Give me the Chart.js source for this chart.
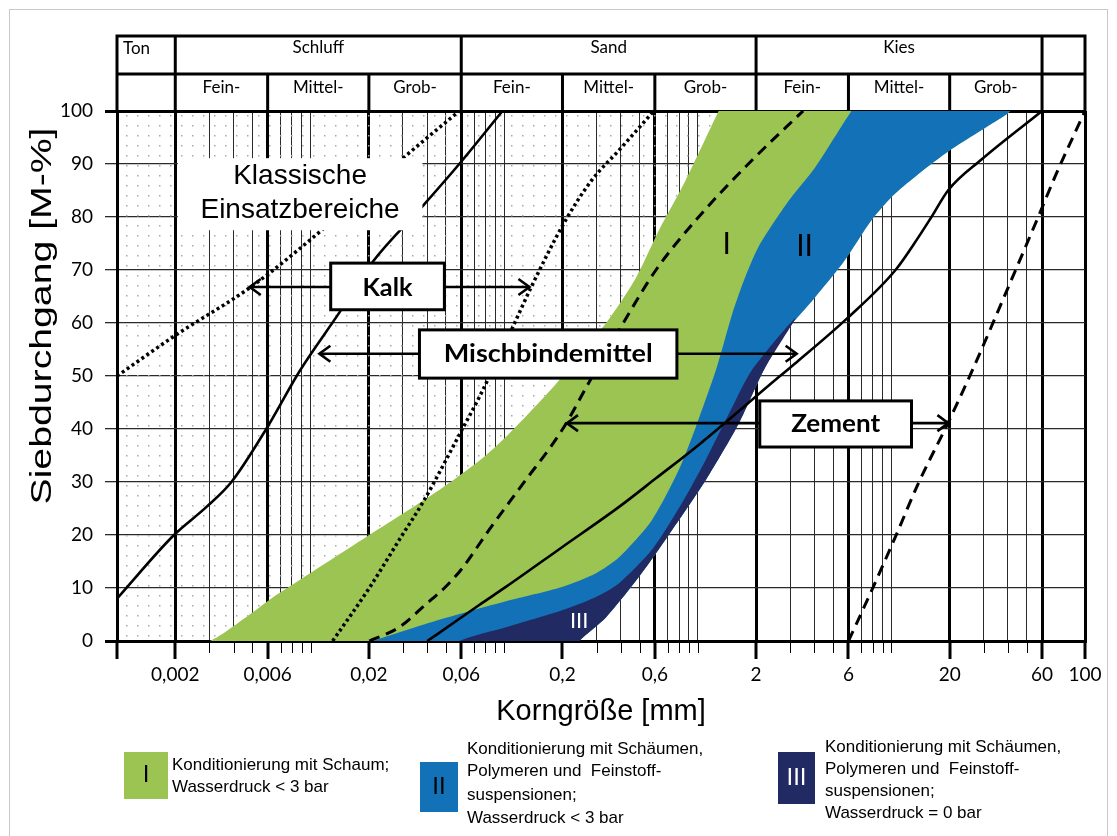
<!DOCTYPE html>
<html lang="de"><head><meta charset="utf-8">
<title>Korngrößenverteilung – Einsatzbereiche</title>
<script src="https://cdn.jsdelivr.net/npm/chart.js@4.4.1/dist/chart.umd.min.js"></script>
<style>
html,body{margin:0;padding:0;background:#fff;overflow:hidden}
#wrap{position:relative;width:1117px;height:836px}
canvas{display:block}
</style></head><body>
<div id="wrap"><canvas id="chart" width="1117" height="836"></canvas></div>
<script>
// ---------- axis / tick data ----------
const xGridValues = [0.001,0.002,0.003,0.004,0.005,0.006,0.007,0.008,0.009,0.01,
  0.02,0.03,0.04,0.05,0.06,0.07,0.08,0.09,0.1,0.2,0.3,0.4,0.5,0.6,0.7,0.8,0.9,1,
  2,3,4,5,6,7,8,9,10,20,30,40,50,60,100];
const xMajorValues = [0.001,0.002,0.006,0.02,0.06,0.2,0.6,2,6,20,60,100];
const xLabelValues = [0.002,0.006,0.02,0.06,0.2,0.6,2,6,20,60,100];
const xLabelTexts  = ['0,002','0,006','0,02','0,06','0,2','0,6','2','6','20','60','100'];

// ---------- header (soil fractions) ----------
const fractionBounds = [0.001,0.002,0.06,2,60,100];
const fractionNames  = ['Ton','Schluff','Sand','Kies',''];
const subBounds = [0.002,0.006,0.02,0.06,0.2,0.6,2,6,20,60];
const subNames  = ['Fein-','Mittel-','Grob-','Fein-','Mittel-','Grob-','Fein-','Mittel-','Grob-'];

// ---------- curves: grain size [mm] / passing [M-%] ----------
const mischLeftSize  = [0.001,0.00197,0.0029,0.0039,0.0059,0.0088,0.0141,0.0209,0.0378,0.0586,0.098];
const mischLeftPass  = [8,20,25.3,30,40,51,62,71.5,82,90,100];
const mischRightSize = [0.040,0.046,0.0743,0.102,0.199,0.392,0.608,1.01,2.62,3.24,6.0,10.5,13.8,16.1,19.7,29.1,60];
const mischRightPass = [0,1.5,6.8,10.2,17.7,25.3,30.7,37,49.8,52.6,61.1,70,76.2,80,85.1,90.8,100];
const kalkLeftSize   = [0.001,0.00197,0.005,0.0114,0.0298,0.0586];
const kalkLeftPass   = [50,57.5,67,77.5,91,100];
const kalkRightSize  = [0.013,0.0201,0.0294,0.0378,0.0608,0.0743,0.109,0.138,0.204,0.284,0.392,0.593];
const kalkRightPass  = [0,10,19.7,26,40,46,58.7,66.8,78.9,87,92.6,100];
const zementLeftSize = [0.0201,0.0287,0.0396,0.0491,0.060,0.0837,0.124,0.199,0.284,0.40,0.608,1.01,1.94,3.5];
const zementLeftPass = [0,2.6,7,10,13.5,21,29.5,39.8,49.8,59.2,70,80,91,100];
const zementRightSize= [6.0,7.9,10.5,13.8,19.7,26.5,38.7,57.3,70,100];
const zementRightPass= [0,9.5,19.7,29.8,41.3,51.5,65.4,80,87.6,100];

// ---------- zone boundaries ----------
const zoneIUpperSize  = [0.00148,0.00302,0.00485,0.00637,0.00878,0.0201,0.0462,0.0743,0.102,0.185,0.336,0.479,0.63,0.867,1.28,1.53];
const zoneIUpperPass  = [-3,0,5,8.2,11.5,20,28.5,34,38.5,48.5,60,68.5,77.5,87,100,106];
const zoneIIUpperSize = [0.0141,0.0209,0.0462,0.102,0.199,0.298,0.392,0.579,0.798,0.977,1.25,1.50,1.73,2.06,2.94,4.06,6.22,7.6];
const zoneIIUpperPass = [-2,0,4,7.5,10.2,12.8,15.8,22.8,32.3,40.4,51.5,61.5,68,74.4,83,89.5,100,104];
const zoneIILowerSize = [2.94,3.96,5.66,7.89,10.5,19.0,38.7,41.0,47.9];
const zoneIILowerPass = [59,64.5,71.5,79.4,84.5,92,99.2,100,104];
const zoneIIIUpperSize= [0.0462,0.0586,0.102,0.199,0.298,0.392,0.579,0.827,1.10,1.50,1.90,3.20];
const zoneIIIUpperPass= [-3,0,2.6,5.8,8.3,10.9,17.2,26,34.2,44,51.1,61];
const zoneIIILowerSize= [0.216,0.244,0.336,0.497,0.735,1.10,1.63,2.19];
const zoneIIILowerPass= [-3,0,4.5,12.1,20.9,30.4,41.1,51.1];

// ---------- colours ----------
const colGreen = '#9bc453', colBlue = '#1371b8', colNavy = '#222a64';

// ---------- helpers ----------
const pts = (xs, ys) => xs.map((x, i) => ({x, y: ys[i]}));
const rev = a => a.slice().reverse();
const near = (a, b) => Math.abs(Math.log10(a) - Math.log10(b)) < 1e-6;
const isMajor = v => xMajorValues.some(m => near(m, v));

const zoneIIILower = pts(zoneIIILowerSize, zoneIIILowerPass);
const outerLower = zoneIIILower.concat(pts(zoneIILowerSize, zoneIILowerPass));
const polyNavy  = pts(zoneIIIUpperSize, zoneIIIUpperPass).concat(rev(zoneIIILower));
const polyBlue  = pts(zoneIIUpperSize, zoneIIUpperPass).concat(rev(outerLower));
const polyGreen = pts(zoneIUpperSize, zoneIUpperPass).concat(rev(outerLower));
const polyDots  = [{x:0.0004,y:-5},{x:0.0004,y:110}].concat(rev(pts(zoneIUpperSize, zoneIUpperPass)));

// dotted background pattern
const canvas = document.getElementById('chart');
const pc = document.createElement('canvas'); pc.width = 11; pc.height = 10;
const pg = pc.getContext('2d'); pg.fillStyle = '#a8a8a8'; pg.fillRect(5, 5, 1.5, 1.5);
const dotPattern = canvas.getContext('2d').createPattern(pc, 'repeat');

function zone(data, color) {
  return {data, backgroundColor: color, borderWidth: 0, fill: 'shape', pointRadius: 0,
          tension: 0.25, capBezierPoints: false, showLine: true};
}
function curve(xs, ys, dash, width) {
  return {data: pts(xs, ys), borderColor: '#000', borderWidth: width, borderDash: dash,
          fill: false, pointRadius: 0, cubicInterpolationMode: 'monotone', borderCapStyle: 'butt'};
}

// ---------- annotation plugin ----------
function fitText(ctx, text, cx, cy, font, targetW, align) {
  ctx.save(); ctx.font = font;
  const w = ctx.measureText(text).width;
  const sx = targetW ? targetW / w : 1;
  ctx.translate(cx, cy); ctx.scale(sx, 1);
  ctx.textAlign = align || 'center'; ctx.textBaseline = 'middle';
  ctx.fillText(text, 0, 0); ctx.restore();
}
const SANS = '"Liberation Sans", Arial, sans-serif';

const annotations = {
  id: 'annotations',
  afterDraw(chart) {
    const ctx = chart.ctx, xs = chart.scales.x, ys = chart.scales.y, a = chart.chartArea;
    const X = v => xs.getPixelForValue(v), Y = p => ys.getPixelForValue(p);
    ctx.save();
    ctx.fillStyle = '#000'; ctx.strokeStyle = '#000';

    // x tick marks (major long, minor short)
    xGridValues.forEach(v => {
      const px = Math.round(X(v)) + (isMajor(v) ? 0 : 0.5);
      ctx.lineWidth = isMajor(v) ? 3 : 1;
      ctx.beginPath(); ctx.moveTo(px, a.bottom); ctx.lineTo(px, a.bottom + (isMajor(v) ? 18 : 12)); ctx.stroke();
    });

    // header table
    const yTop = a.top - 75, yMid = a.top - 37;
    ctx.lineWidth = 3;
    ctx.beginPath();
    ctx.moveTo(X(0.001) - 1.5, yTop); ctx.lineTo(X(100) + 1.5, yTop);
    ctx.moveTo(X(0.001), yMid); ctx.lineTo(X(100), yMid);
    fractionBounds.forEach(v => { ctx.moveTo(X(v), yTop); ctx.lineTo(X(v), a.top); });
    subBounds.forEach(v => { ctx.moveTo(X(v), yMid); ctx.lineTo(X(v), a.top); });
    ctx.stroke();
    ctx.font = '17px Lato, sans-serif'; ctx.textBaseline = 'middle';
    fractionNames.forEach((n, i) => {
      if (!n) return;
      if (i === 0) { ctx.textAlign = 'left'; ctx.fillText(n, X(fractionBounds[0]) + 6, yTop + 13); }
      else { ctx.textAlign = 'center'; ctx.fillText(n, (X(fractionBounds[i]) + X(fractionBounds[i+1])) / 2, yTop + 12); }
    });
    subNames.forEach((n, i) => {
      ctx.textAlign = 'center';
      ctx.fillText(n, (X(subBounds[i]) + X(subBounds[i+1])) / 2, yMid + 14);
    });

    // "Klassische Einsatzbereiche"
    ctx.fillStyle = '#fff';
    ctx.fillRect(X(0.00206), Y(91.1), X(0.0378) - X(0.00206), Y(77.5) - Y(91.1));
    ctx.fillStyle = '#000';
    ctx.font = '28px ' + SANS; ctx.textAlign = 'center'; ctx.textBaseline = 'middle';
    const kx = (X(0.00206) + X(0.0378)) / 2;
    ctx.fillText('Klassische', kx, Y(87.6));
    ctx.fillText('Einsatzbereiche', kx, Y(81.2));

    // labelled boxes with arrows
    function arrowTo(x0, x1, y) {
      ctx.lineWidth = 2.6; ctx.beginPath(); ctx.moveTo(x0, y); ctx.lineTo(x1, y); ctx.stroke();
      const d = x1 > x0 ? -1 : 1;
      ctx.beginPath(); ctx.moveTo(x1 + d * 11, y - 8); ctx.lineTo(x1, y); ctx.lineTo(x1 + d * 11, y + 8); ctx.stroke();
    }
    function labelBox(text, s0, s1, pTop, pBot, pMid, leftTip, rightTip, textW) {
      const L = X(s0), R = X(s1), T = Y(pTop), B = Y(pBot), M = Y(pMid);
      arrowTo(L, X(leftTip), M); arrowTo(R, X(rightTip), M);
      ctx.fillStyle = '#fff'; ctx.fillRect(L, T, R - L, B - T);
      ctx.lineWidth = 3; ctx.strokeRect(L, T, R - L, B - T);
      ctx.fillStyle = '#000';
      fitText(ctx, text, (L + R) / 2, M + 1, 'bold 24px Lato, sans-serif', textW);
    }
    labelBox('Kalk', 0.0127, 0.0491, 71.3, 62.5, 66.8, 0.00485, 0.135, 50);
    labelBox('Mischbindemittel', 0.0365, 0.78, 58.7, 49.6, 54.2, 0.0111, 3.24, 209);
    labelBox('Zement', 2.09, 12.7, 45.3, 36.6, 41.1, 0.211, 19.7, 89);

    // zone labels
    ctx.font = '30px Lato, sans-serif'; ctx.textAlign = 'center'; ctx.textBaseline = 'middle';
    ctx.fillText('I', X(1.41), Y(74.8));
    ctx.fillText('II', X(3.56), Y(74.5));
    ctx.fillStyle = '#fff'; ctx.font = '22px Lato, sans-serif';
    ctx.fillText('III', X(0.244), Y(3.8));
    ctx.fillStyle = '#000';

    // axis titles
    ctx.font = '29px ' + SANS; ctx.textAlign = 'center'; ctx.textBaseline = 'middle';
    ctx.fillText('Korngröße [mm]', (a.left + a.right) / 2, 712);
    ctx.save(); ctx.translate(43, 316); ctx.rotate(-Math.PI / 2);
    ctx.font = '32px ' + SANS;
    const tw = ctx.measureText('Siebdurchgang [M-%]').width;
    ctx.scale(377 / tw, 0.92); ctx.textAlign = 'center'; ctx.textBaseline = 'middle';
    ctx.fillText('Siebdurchgang [M-%]', 0, 0); ctx.restore();

    // legend
    const legend = [
      {box:[124,752,44,47], col: colGreen, sym:'I', symCol:'#000', tx:172, lines:['Konditionierung mit Schaum;','Wasserdruck < 3 bar'], ly:[765,787]},
      {box:[420,762,38,50], col: colBlue, sym:'II', symCol:'#000', tx:467, lines:['Konditionierung mit Schäumen,','Polymeren und  Feinstoff-','suspensionen;','Wasserdruck < 3 bar'], ly:[749,771,795,818]},
      {box:[778,752,37,52], col: colNavy, sym:'III', symCol:'#fff', tx:825, lines:['Konditionierung mit Schäumen,','Polymeren und  Feinstoff-','suspensionen;','Wasserdruck = 0 bar'], ly:[747,769,791,813]}
    ];
    legend.forEach(it => {
      const [bx, by, bw, bh] = it.box;
      ctx.fillStyle = it.col; ctx.fillRect(bx, by, bw, bh);
      ctx.fillStyle = it.symCol; ctx.font = '24px ' + SANS; ctx.textAlign = 'center'; ctx.textBaseline = 'middle';
      ctx.fillText(it.sym, bx + bw / 2, by + bh / 2);
      ctx.fillStyle = '#000'; ctx.font = '17px ' + SANS; ctx.textAlign = 'left';
      it.lines.forEach((l, i) => ctx.fillText(l, it.tx, it.ly[i]));
    });

    // outer frame
    ctx.strokeStyle = '#c8c8c8'; ctx.lineWidth = 1;
    ctx.strokeRect(9.5, 9.5, 1098, 840);
    ctx.restore();
  }
};

new Chart(canvas, {
  type: 'line',
  data: {
    datasets: [
      curve(mischLeftSize, mischLeftPass, [], 2.6),
      curve(mischRightSize, mischRightPass, [], 2.6),
      curve(kalkLeftSize, kalkLeftPass, [3, 3], 3.5),
      curve(kalkRightSize, kalkRightPass, [3, 3], 3.5),
      curve(zementLeftSize, zementLeftPass, [11, 7], 3),
      curve(zementRightSize, zementRightPass, [11, 7], 3),
      zone(polyNavy, colNavy),
      zone(polyBlue, colBlue),
      zone(polyGreen, colGreen),
      zone(polyDots, dotPattern)
    ]
  },
  options: {
    responsive: false, maintainAspectRatio: false, animation: false,
    layout: {padding: {top: 111, right: 32, left: 0, bottom: 0}},
    plugins: {legend: {display: false}, tooltip: {enabled: false}},
    events: [],
    scales: {
      x: {
        type: 'logarithmic', min: 0.001, max: 100, z: 1,
        afterFit: s => { s.height = 195; },
        afterBuildTicks: s => { s.ticks = xGridValues.map(v => ({value: v})); },
        grid: {
          color: c => isMajor(c.tick.value) ? '#000' : '#2a2a2a',
          lineWidth: c => isMajor(c.tick.value) ? 3 : 1,
          drawTicks: true, tickLength: 17, tickColor: 'rgba(0,0,0,0)'
        },
        border: {display: true, color: '#000', width: 3},
        ticks: {
          autoSkip: false, maxRotation: 0, minRotation: 0, padding: 5, color: '#000',
          font: {family: 'Lato', size: 19},
          callback: v => { const i = xLabelValues.findIndex(t => near(t, v)); return i >= 0 ? xLabelTexts[i] : ''; }
        },
        title: {display: false}
      },
      y: {
        type: 'linear', min: 0, max: 100, z: 1,
        afterFit: s => { s.width = 117; },
        grid: {
          color: c => (c.tick.value === 0 || c.tick.value === 100) ? '#000' : '#2a2a2a',
          lineWidth: c => (c.tick.value === 0 || c.tick.value === 100) ? 3 : 1.3,
          tickLength: 12
        },
        border: {display: true, color: '#000', width: 3},
        ticks: {stepSize: 10, padding: 12, color: '#000', font: {family: 'Lato', size: 19}},
        title: {display: false}
      }
    }
  },
  plugins: [annotations]
});
</script></body></html>
